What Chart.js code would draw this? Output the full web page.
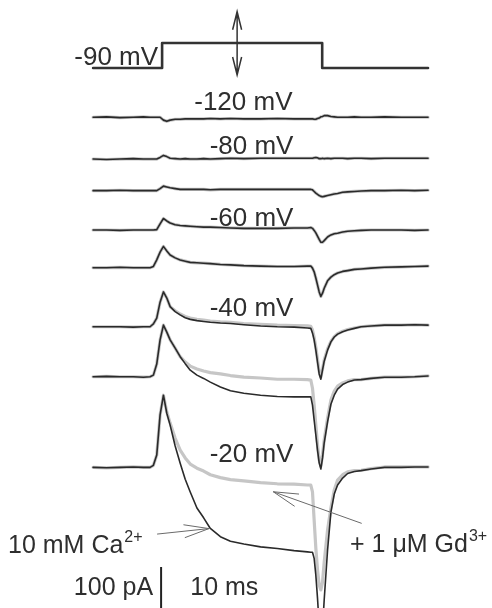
<!DOCTYPE html>
<html>
<head>
<meta charset="utf-8">
<script src="https://cdn.jsdelivr.net/npm/chart.js@4.4.1/dist/chart.umd.min.js"></script>
<style>
  html, body { margin: 0; padding: 0; background: #fff; }
  canvas { display: block; }
</style>
</head>
<body>
<canvas id="c" width="492" height="608"></canvas>
<script>
// ---- sweep data ------------------------------------------------------------
// Sample times, ms from the start of each sweep
const timeMs = [0, 4, 8, 12, 15, 17, 18, 19, 20, 21, 22, 23, 24.5, 26, 27.5, 29, 31, 33, 35,
  38, 41, 45, 50, 55, 60, 64, 65, 65.5, 66, 66.5, 67, 67.5, 68, 68.5, 69, 70, 71, 72, 73,
  74.5, 76, 78, 80, 83, 87, 92, 96, 100];

// Test potentials of the sweeps, top to bottom
const testPotentials = [-120, -80, -70, -60, -50, -40, -30, -20];
// Sweeps whose test potential is written next to them
const labelledSweeps = [-120, -80, -60, -40, -20];

// Membrane current (pA, relative to the holding level) in 10 mM Ca2+
const caM120 = [0, 1, -1, 0, 1, 0, 0, 0, 0, -7, -10, -7, -5, -5, -4, -4, -4, -4, -3, -4, -3, -4, -4, -3, -4, -4, -4, -4, -5, -5, -3, -2, 1, 2, 4, 4, 2, 1, 0, 0, 0, 1, 0, 0, 1, 0, 0, 0];
const caM80  = [0, -1, 0, 1, 0, 0, 0, 0, 4, 9, 6, 2, 1, 0, 1, 0, 0, 1, 0, 1, 2, 1, 2, 2, 2, 2, 2, 2, 3, 4, 3, 1, 1, 2, 1, 2, 1, 2, 2, 2, 1, 2, 2, 1, 2, 2, 2, 2];
const caM70  = [0, 0, 1, 0, 0, 0, 0, 0, 5, 11, 9, 7, 5, 3, 3, 3, 3, 3, 2, 3, 3, 3, 3, 3, 3, 3, 3, 2, -2, -6, -9, -12, -14, -15, -14, -12, -10, -8, -7, -4, -3, -2, -1, 0, 0, 1, 0, 1];
const caM60  = [0, 0, -1, 0, 0, 0, 0, 1, 15, 28, 22, 17, 13, 11, 10, 9, 8, 7, 7, 6, 5, 4, 4, 4, 5, 5, 6, 4, -1, -7, -15, -23, -30, -30, -26, -17, -12, -9, -8, -5, -3, -2, -1, 0, 0, 0, -1, 0];
const caM50  = [0, 0, 1, 0, 0, 0, 3, 19, 38, 52, 41, 31, 24, 19, 16, 13, 12, 11, 10, 8, 7, 5, 4, 3, 3, 4, 4, -1, -10, -25, -42, -59, -70, -62, -50, -32, -23, -17, -13, -9, -7, -4, -3, -1, 1, 2, 3, 4];
const caM40  = [0, 0, 0, -1, 0, 0, 7, 21, 60, 85, 70, 49, 37, 29, 22, 18, 15, 13, 11, 9, 8, 5, 2, 0, -1, -3, -4, -15, -32, -57, -86, -115, -128, -105, -84, -57, -37, -25, -18, -12, -8, -4, 0, 2, 4, 4, 5, 4];
const caM30  = [0, 1, 0, 0, -1, 0, 4, 31, 90, 126, 109, 90, 70, 49, 32, 16, 4, -4, -13, -25, -34, -40, -45, -48, -49, -49, -49, -69, -106, -142, -179, -210, -225, -198, -161, -110, -67, -45, -30, -19, -13, -8, -7, -4, -1, -1, 0, 2];
const caM20  = [0, -1, 0, 1, 0, 0, 5, 30, 128, 176, 132, 103, 52, 10, -29, -60, -99, -123, -149, -169, -180, -187, -194, -198, -203, -206, -207, -207, -222, -263, -319, -384, -433, -392, -323, -202, -109, -65, -43, -26, -15, -10, -8, -4, 0, 0, 1, 1];

// Membrane current (pA) after adding 1 µM Gd3+
const gdM120 = caM120;
const gdM80  = caM80;
const gdM70  = caM70;
const gdM60  = caM60;
const gdM50  = caM50;
const gdM40  = [0, 0, 0, -1, 0, 0, 7, 21, 60, 85, 70, 49, 39, 31, 25, 21, 18, 16, 14, 12, 11, 8, 6, 4, 3, 2, 1, -8, -26, -50, -80, -109, -123, -103, -81, -54, -36, -24, -17, -11, -7, -3, 0, 2, 4, 4, 5, 4];
const gdM30  = [0, 1, 0, 0, -1, 0, 4, 31, 90, 126, 109, 90, 70, 49, 36, 26, 19, 14, 10, 7, 3, -1, -3, -6, -6, -7, -8, -28, -69, -118, -166, -203, -218, -190, -154, -101, -57, -35, -23, -15, -10, -7, -7, -4, -1, -1, 0, 2];
const gdM20  = [0, -1, 0, 1, 0, 0, 5, 30, 128, 176, 135, 108, 71, 42, 23, 8, -2, -9, -18, -25, -30, -33, -37, -40, -41, -43, -43, -60, -129, -197, -250, -287, -299, -280, -231, -153, -99, -55, -31, -18, -11, -8, -7, -3, 1, 1, 1, 1];

const caSweeps = [caM120, caM80, caM70, caM60, caM50, caM40, caM30, caM20];
const gdSweeps = [gdM120, gdM80, gdM70, gdM60, gdM50, gdM40, gdM30, gdM20];

// Voltage protocol (ms, mV): hold at -90 mV, step to the test potential
const protocolMs = [0, 20.6, 20.6, 68.4, 68.4, 100];
const protocolMv = [-90, -90, -40, -40, -90, -90];

// ---- layout ----------------------------------------------------------------
// Vertical offset (pA) at which each sweep is stacked
const sweepOffsets = [-286, -388, -465, -561, -653, -797, -919, -1140];
const labelPlace = { '-120': [30.2, 17.8], '-80': [34.8, 13.4], '-60': [34.8, 9.8], '-40': [34.8, 26], '-20': [34.8, 13] };

const INK = '#2e2e2e';
const FONT = '"Liberation Sans", Arial, Helvetica, sans-serif';

const datasets = [];
caSweeps.forEach((vals, k) => {
  datasets.push({
    label: 'Ca ' + testPotentials[k],
    data: timeMs.map((t, i) => ({ x: t, y: sweepOffsets[k] + vals[i] })),
    borderColor: '#2a2a2a', borderWidth: 1.6, order: 0
  });
});
gdSweeps.forEach((vals, k) => {
  datasets.push({
    label: 'Gd ' + testPotentials[k],
    data: timeMs.map((t, i) => ({ x: t, y: sweepOffsets[k] + vals[i] })),
    borderColor: '#c6c6c6', borderWidth: 3.2, order: 1
  });
});
datasets.push({
  label: 'protocol',
  data: protocolMs.map((t, i) => ({ x: t, y: protocolMv[i] })),
  yAxisID: 'yV', borderColor: '#333333', borderWidth: 2.6, order: 0
});

function arrow(ctx, x1, y1, x2, y2, len, half) {
  const a = Math.atan2(y2 - y1, x2 - x1);
  const ux = Math.cos(a), uy = Math.sin(a);
  ctx.beginPath();
  ctx.moveTo(x1, y1); ctx.lineTo(x2, y2);
  ctx.moveTo(x2 - ux * len - uy * half, y2 - uy * len + ux * half);
  ctx.lineTo(x2, y2);
  ctx.lineTo(x2 - ux * len + uy * half, y2 - uy * len - ux * half);
  ctx.stroke();
}

function textWithSup(ctx, main, sup, x, y) {
  ctx.font = '25px ' + FONT;
  ctx.textAlign = 'left';
  ctx.fillText(main, x, y);
  const w = ctx.measureText(main).width;
  ctx.font = '16px ' + FONT;
  ctx.fillText(sup, x + w + 1, y - 11);
}

const annotations = {
  id: 'annotations',
  afterDatasetsDraw(chart) {
    const { ctx, scales: { x, y, yV } } = chart;
    const X = t => x.getPixelForValue(t);
    const Y = (k, dy) => y.getPixelForValue(sweepOffsets[k] + dy);
    const last = sweepOffsets.length - 1;
    ctx.save();
    ctx.fillStyle = INK;
    ctx.textBaseline = 'alphabetic';

    // holding potential and test-potential labels
    ctx.font = '26px ' + FONT;
    ctx.textAlign = 'right';
    ctx.fillText('-90 mV', X(19.4), yV.getPixelForValue(-84));
    ctx.textAlign = 'left';
    labelledSweeps.forEach(v => {
      const k = testPotentials.indexOf(v);
      const [t, dy] = labelPlace[String(v)];
      ctx.fillText(v + ' mV', X(t), Y(k, dy));
    });

    // double-headed arrow: variable test step
    ctx.strokeStyle = '#333333';
    ctx.lineWidth = 1.5;
    const ax = X(43), top = yV.getPixelForValue(22.6), bot = yV.getPixelForValue(-104);
    ctx.beginPath();
    ctx.moveTo(ax, top); ctx.lineTo(ax, bot);
    ctx.moveTo(ax - 4.5, top + 18); ctx.lineTo(ax, top); ctx.lineTo(ax + 4.5, top + 18);
    ctx.moveTo(ax - 4.5, bot - 18); ctx.lineTo(ax, bot); ctx.lineTo(ax + 4.5, bot - 18);
    ctx.stroke();

    // condition labels with pointer arrows
    textWithSup(ctx, '10 mM Ca', '2+', X(-25.4), Y(last, -209));
    textWithSup(ctx, '+ 1 \u03BCM Gd', '3+', X(76.7), Y(last, -206.6));
    ctx.strokeStyle = '#6a6a6a';
    ctx.lineWidth = 1;
    arrow(ctx, X(19.1), Y(last, -162.7), X(34.6), Y(last, -149.3), 25, 6.5);
    arrow(ctx, X(80.2), Y(last, -136.6), X(53.8), Y(last, -59.5), 25, 6.5);

    // scale bar: 100 pA
    ctx.strokeStyle = '#222222';
    ctx.lineWidth = 2;
    ctx.beginPath();
    ctx.moveTo(X(20.3), Y(last, -243));
    ctx.lineTo(X(20.3), Y(last, -343));
    ctx.stroke();
    ctx.font = '25px ' + FONT;
    ctx.textAlign = 'right';
    ctx.fillText('100 pA', X(17.9), Y(last, -311.5));
    ctx.textAlign = 'left';
    ctx.fillText('10 ms', X(29), Y(last, -311.5));
    ctx.restore();
  }
};

new Chart(document.getElementById('c'), {
  type: 'line',
  data: { datasets },
  options: {
    responsive: false,
    animation: false,
    devicePixelRatio: 1,
    layout: { padding: 0 },
    elements: { point: { radius: 0 }, line: { tension: 0, fill: false, borderJoinStyle: 'round', borderCapStyle: 'round' } },
    plugins: { legend: { display: false }, tooltip: { enabled: false } },
    scales: {
      x: { type: 'linear', display: false, min: -27.8, max: 119.1 },
      y: { type: 'linear', display: false, min: -1483, max: 0 },
      yV: { type: 'linear', display: false, min: -1170, max: 46 }
    }
  },
  plugins: [annotations]
});
</script>
</body>
</html>
